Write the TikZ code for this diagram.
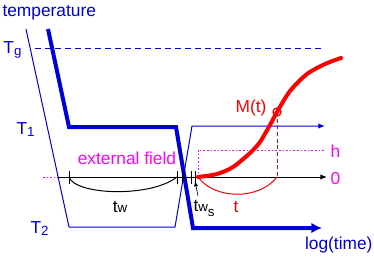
\documentclass[tikz,border=0pt]{standalone}
\usepackage{fontspec}
\setmainfont{Liberation Sans}
\usepackage{xcolor}
\usepackage{tikz}
\usetikzlibrary{arrows.meta}
\definecolor{tblue}{HTML}{0000D8}
\definecolor{mred}{HTML}{FF0000}
\definecolor{hmag}{HTML}{FF00FF}
\newcommand{\lsub}[2][-0.3ex]{\raisebox{#1}{\fontsize{10}{10}\selectfont #2}}

\begin{document}
\begin{tikzpicture}[x=0.75pt, y=-0.75pt, line width=0.75pt,
    font=\fontsize{13}{15}\selectfont, lbl/.style={inner sep=0pt}]
  \useasboundingbox (0,0) rectangle (374,258);
  % temperature protocol
  \draw[tblue, dash pattern=on 4.5pt off 3pt] (35,48) -- (325,48);
  \draw[tblue, -{Latex[length=5pt,width=4pt]}]
    (26,29) -- (69,227) -- (175,227) -- (192,126) -- (325,126);
  \draw[tblue, line width=3pt, -{Latex[length=8pt,width=8pt]}]
    (48,29) -- (69,127) -- (176,127) -- (193,228) -- (322,228);
  \node[lbl, anchor=base west, text=tblue] (temp) at (2,16) {temperature};
  \node[lbl, anchor=base west, text=tblue] (Tg) at (3,53) {T\lsub{g}};
  \node[lbl, anchor=base west, text=tblue] (T1) at (16,134) {T\lsub{1}};
  \node[lbl, anchor=base west, text=tblue] (T2) at (30,233) {T\lsub{2}};
  \node[lbl, anchor=base east, text=tblue] (logt) at (373,249) {log(time)};
  % time axis and waiting times
  \draw[hmag, dash pattern=on 1.2pt off 1.5pt] (43,177) -- (57,177);
  \draw[-{Latex[length=5pt,width=4pt]}] (57,177) -- (327,177);
  \foreach \x in {69,177,182,191,195}
    \draw (\x,171) -- (\x,184);
  \draw (69,177) .. controls (75,195) and (150,198) .. (177,177);
  \node[lbl, anchor=base] (tw) at (120,212) {t\lsub[-0.1ex]{w}};
  \node[lbl, anchor=base west] (tws) at (193,211)
    {t\lsub[-0.1ex]{w\lsub[-0.6ex]{s}}};
  \draw[line width=0.5pt, -{Latex[length=4pt,width=3pt]}]
    (198,196) -- (195,181);
  % field
  \draw[hmag, dash pattern=on 1.2pt off 1.5pt] (198,177) -- (198,150) -- (325,150);
  \node[lbl, anchor=base, text=hmag] (field) at (127,164) {external field};
  \node[lbl, anchor=base west, text=hmag] (hlab) at (330,157) {h};
  \node[lbl, anchor=base west, text=hmag] (zero) at (330,184) {0};
  % magnetisation
  \draw[mred, line width=3pt, line cap=round] plot[smooth] coordinates
    {(198,177) (217,174) (233,167) (250,153) (260,142) (270,125)
     (277,112) (290,91) (307,74) (325,64) (341,58)};
  \draw[mred, dash pattern=on 3pt off 2pt] (277,112) -- (277,177);
  \draw[mred] (198,177) .. controls (215,200) and (259,200) .. (277,177);
  \draw[mred, line width=1pt] (277,112) circle[radius=3pt];
  \node[lbl, anchor=base, text=mred] (Mt) at (251,112) {M(t)};
  \node[lbl, anchor=base, text=mred] (tlab) at (236,212) {t};
\end{tikzpicture}
\end{document}
